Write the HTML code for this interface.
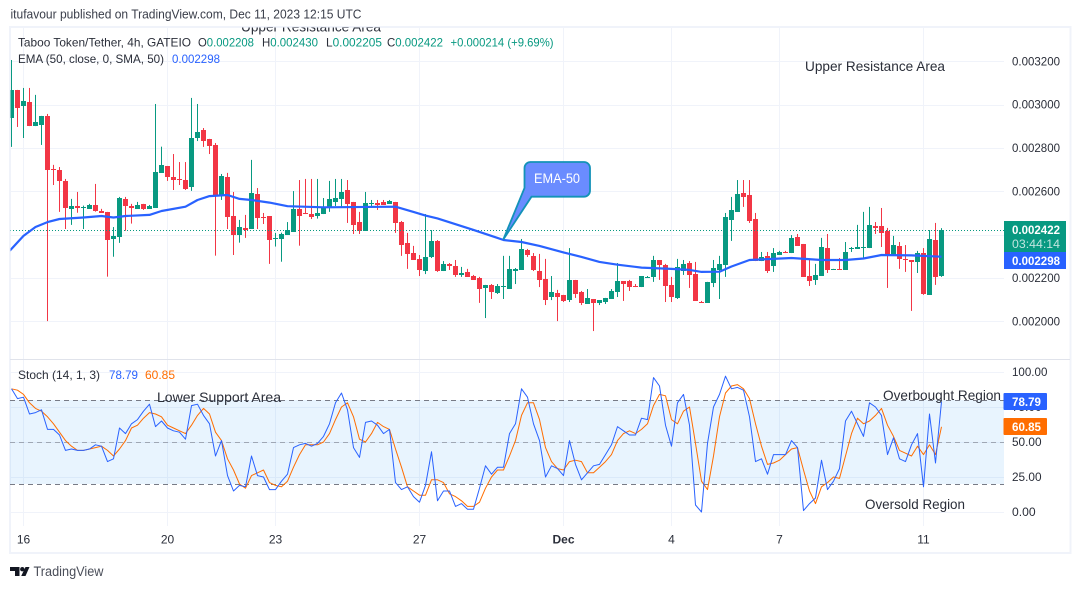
<!DOCTYPE html>
<html lang="en">
<head>
<meta charset="utf-8">
<title>Taboo Token/Tether chart</title>
<style>
html,body{margin:0;padding:0;background:#fff;width:1080px;height:589px;overflow:hidden}
svg{display:block;font-family:"Liberation Sans",sans-serif}
</style>
</head>
<body>
<svg id="chart" xmlns="http://www.w3.org/2000/svg" width="1080" height="589" viewBox="0 0 1080 589">
  <defs>
    <clipPath id="main-clip"><rect x="10.5" y="27.5" width="993.5" height="331.5"/></clipPath>
    <clipPath id="stoch-clip"><rect x="10.5" y="360" width="993.5" height="166"/></clipPath>
  </defs>
  <rect x="0" y="0" width="1080" height="589" fill="#ffffff"/>
  <text x="10.5" y="18.5" font-size="12.5" fill="#3a3e4a" textLength="351" lengthAdjust="spacingAndGlyphs">itufavour published on TradingView.com, Dec 11, 2023 12:15 UTC</text>
  <rect x="10" y="27" width="1060.5" height="526" fill="none" stroke="#f0f3fa" stroke-width="2"/>
  <g id="grid"></g>
  <g id="band"></g>
  <line x1="10" x2="1070" y1="359.5" y2="359.5" stroke="#e0e3eb" stroke-width="1"/>
  <g clip-path="url(#main-clip)">
    <text x="241" y="31.5" font-size="14" fill="#2a2e39" textLength="140" lengthAdjust="spacingAndGlyphs">Upper Resistance Area</text>
    <g id="candles"></g>
    <line id="last-line" x1="10" x2="1004" stroke="#089981" stroke-width="1" stroke-dasharray="1 2"/>
    <polyline id="ema-line" fill="none" stroke="#2962ff" stroke-width="2.2" stroke-linejoin="round"/>
    <path d="M530 162h54a6 6 0 0 1 6 6v22.700a6 6 0 0 1 -6 6h-52.500L503.300 239.500L524.500 188V168a6 6 0 0 1 6 -6z" fill="#6a8cff" stroke="#1392b8" stroke-width="1.800"/>
    <text x="534" y="183" font-size="14" fill="#ffffff" textLength="46" lengthAdjust="spacingAndGlyphs">EMA-50</text>
  </g>
  <g clip-path="url(#stoch-clip)">
    <polyline id="stoch-d" fill="none" stroke="#ff6d00" stroke-width="1" stroke-linejoin="round"/>
    <polyline id="stoch-k" fill="none" stroke="#2962ff" stroke-width="1" stroke-linejoin="round"/>
  </g>
  <text x="18" y="46.500" font-size="12" fill="#2a2e39" textLength="173" lengthAdjust="spacingAndGlyphs">Taboo Token/Tether, 4h, GATEIO</text>
  <text x="198" y="46.500" font-size="12" fill="#089981" textLength="56" lengthAdjust="spacingAndGlyphs"><tspan fill="#2a2e39">O</tspan>0.002208</text>
  <text x="262" y="46.500" font-size="12" fill="#089981" textLength="56" lengthAdjust="spacingAndGlyphs"><tspan fill="#2a2e39">H</tspan>0.002430</text>
  <text x="326" y="46.500" font-size="12" fill="#089981" textLength="56" lengthAdjust="spacingAndGlyphs"><tspan fill="#2a2e39">L</tspan>0.002205</text>
  <text x="387" y="46.500" font-size="12" fill="#089981" textLength="56" lengthAdjust="spacingAndGlyphs"><tspan fill="#2a2e39">C</tspan>0.002422</text>
  <text x="450.500" y="46.500" font-size="12" fill="#089981" textLength="103" lengthAdjust="spacingAndGlyphs">+0.000214 (+9.69%)</text>
  <text x="18" y="63" font-size="12" fill="#2a2e39" textLength="146" lengthAdjust="spacingAndGlyphs">EMA (50, close, 0, SMA, 50)</text>
  <text x="172" y="63" font-size="12" fill="#2962ff" textLength="48" lengthAdjust="spacingAndGlyphs">0.002298</text>
  <text x="805" y="71" font-size="14" fill="#2a2e39" textLength="140" lengthAdjust="spacingAndGlyphs">Upper Resistance Area</text>
  <text x="18" y="379" font-size="12" fill="#2a2e39" textLength="82" lengthAdjust="spacingAndGlyphs">Stoch (14, 1, 3)</text>
  <text x="109" y="379" font-size="12" fill="#2962ff" textLength="29" lengthAdjust="spacingAndGlyphs">78.79</text>
  <text x="145" y="379" font-size="12" fill="#ff6d00" textLength="30" lengthAdjust="spacingAndGlyphs">60.85</text>
  <text x="157" y="402" font-size="14" fill="#2a2e39" textLength="124" lengthAdjust="spacingAndGlyphs">Lower Support Area</text>
  <text x="883" y="400" font-size="14" fill="#2a2e39" textLength="118" lengthAdjust="spacingAndGlyphs">Overbought Region</text>
  <text x="865" y="509" font-size="14" fill="#2a2e39" textLength="100" lengthAdjust="spacingAndGlyphs">Oversold Region</text>
  <g id="axis-labels"></g>
  <rect x="1004" y="221" width="62" height="31" fill="#089981"/>
  <text x="1012" y="234" font-size="12" font-weight="bold" fill="#ffffff" textLength="48" lengthAdjust="spacingAndGlyphs">0.002422</text>
  <text x="1012" y="248" font-size="12" fill="#ffffff" fill-opacity="0.75" textLength="48" lengthAdjust="spacingAndGlyphs">03:44:14</text>
  <rect x="1004" y="252" width="62" height="17" fill="#2962ff"/>
  <text x="1012" y="265" font-size="12" font-weight="bold" fill="#ffffff" textLength="48" lengthAdjust="spacingAndGlyphs">0.002298</text>
  <rect x="1003.500" y="393" width="43.500" height="17" rx="1" fill="#2962ff"/>
  <text x="1012" y="406" font-size="12" font-weight="bold" fill="#ffffff" textLength="29" lengthAdjust="spacingAndGlyphs">78.79</text>
  <rect x="1003.500" y="418" width="43.500" height="17" rx="1" fill="#ff6d00"/>
  <text x="1012" y="431" font-size="12" font-weight="bold" fill="#ffffff" textLength="29" lengthAdjust="spacingAndGlyphs">60.85</text>
  <g>
    <path d="M10 567h9.500v9h-4.500v-5h-5z" fill="#131722"/>
    <circle cx="22.300" cy="569.200" r="2.200" fill="#131722"/>
    <path d="M25.500 567h4l-4 9h-4.300z" fill="#131722"/>
    <text x="33.500" y="576" font-size="13.500" fill="#4a4e59" textLength="70" lengthAdjust="spacingAndGlyphs">TradingView</text>
  </g>
</svg>
<script>
const opens = [2939,3068,2994,3012,2901,2906,2948,2701,2698,2648,
2519,2532,2524,2519,2537,2509,2505,2381,2391,2565,
2532,2519,2542,2519,2524,2686,2717,2666,2655,2652,
2620,2846,2883,2842,2814,2578,2666,2486,2398,2431,
2426,2588,2482,2486,2381,2381,2400,2414,2519,2500,
2495,2488,2495,2526,2551,2565,2606,2551,2458,2417,
2542,2546,2551,2542,2551,2458,2362,2315,2288,2232,
2297,2371,2232,2265,2255,2214,2228,2209,2200,2154,
2168,2131,2158,2149,2232,2237,2329,2302,2232,2195,
2112,2131,2122,2098,2191,2135,2080,2103,2085,2089,
2103,2135,2186,2186,2163,2158,2200,2205,2283,2260,
2168,2108,2232,2269,2218,2089,2085,2177,2237,2260,
2468,2505,2592,2583,2472,2278,2302,2255,2306,2320,
2315,2389,2357,2209,2191,2209,2338,2237,2242,2237,
2334,2334,2338,2338,2440,2440,2417,2302,2348,2288,
2283,2274,2315,2122,2375,2208];
const highs = [3206,3068,3077,3077,3045,2948,2957,2722,2712,2657,
2565,2597,2534,2542,2634,2519,2505,2435,2574,2574,
2542,2551,2542,2537,3003,2806,2717,2772,2735,2735,
3031,3003,2892,2842,2823,2680,2685,2597,2468,2491,
2745,2615,2500,2486,2408,2409,2458,2601,2652,2657,
2657,2657,2569,2648,2657,2657,2652,2551,2505,2597,
2560,2560,2560,2560,2551,2463,2408,2348,2306,2495,
2421,2375,2278,2269,2283,2251,2242,2214,2205,2168,
2172,2172,2302,2302,2246,2380,2334,2315,2311,2288,
2209,2145,2122,2338,2191,2140,2149,2103,2098,2108,
2149,2269,2186,2191,2172,2209,2209,2302,2283,2265,
2205,2288,2283,2278,2274,2094,2182,2283,2302,2500,
2574,2652,2652,2652,2500,2320,2320,2338,2325,2325,
2398,2403,2357,2283,2265,2385,2403,2242,2292,2366,
2343,2445,2505,2528,2458,2523,2431,2394,2366,2352,
2283,2325,2338,2421,2454,2430];
const lows = [2805,2897,2846,2901,2901,2814,2001,2629,2505,2426,
2445,2501,2426,2519,2506,2501,2206,2298,2362,2418,
2451,2519,2514,2519,2524,2685,2648,2606,2629,2606,
2602,2832,2805,2772,2303,2560,2426,2306,2363,2385,
2426,2426,2449,2265,2345,2275,2400,2414,2349,2495,
2472,2474,2495,2505,2532,2523,2454,2403,2403,2417,
2528,2514,2537,2542,2408,2302,2242,2283,2209,2218,
2292,2228,2232,2237,2205,2205,2205,2191,2085,2015,
2103,2126,2103,2149,2172,2237,2297,2232,2158,2075,
2098,2001,2089,2089,2108,2075,2080,1955,2075,2080,
2103,2112,2094,2140,2158,2158,2200,2182,2191,2089,
2089,2103,2214,2154,2094,2085,2085,2158,2103,2205,
2371,2505,2528,2454,2278,2278,2223,2228,2306,2315,
2315,2348,2205,2163,2168,2209,2223,2237,2237,2237,
2320,2334,2288,2338,2403,2343,2154,2302,2242,2228,
2048,2223,2122,2122,2168,2205];
const closes = [3068,2985,3017,2901,2920,2948,2698,2696,2649,2524,
2532,2524,2528,2537,2511,2501,2377,2394,2569,2534,
2524,2537,2519,2532,2689,2722,2666,2652,2652,2611,
2846,2874,2832,2809,2583,2671,2483,2398,2435,2423,
2592,2477,2477,2377,2385,2403,2423,2519,2488,2495,
2483,2500,2526,2565,2569,2597,2542,2445,2417,2546,
2546,2537,2537,2555,2454,2352,2311,2283,2237,2297,
2371,2232,2265,2255,2214,2223,2205,2191,2149,2168,
2135,2163,2163,2242,2242,2334,2306,2237,2191,2098,
2135,2112,2094,2191,2126,2085,2108,2085,2098,2108,
2140,2186,2172,2158,2158,2209,2205,2283,2260,2163,
2112,2251,2265,2214,2094,2085,2182,2246,2265,2482,
2514,2588,2574,2463,2278,2297,2232,2315,2320,2315,
2385,2348,2205,2186,2214,2343,2237,2242,2237,2320,
2338,2343,2343,2445,2431,2408,2302,2352,2288,2283,
2274,2315,2126,2380,2205,2422];
const emaBars = [-1,0,2,4,6,8,12,15,17,19,23,25,29,31,33,36,38,40,43,46,52,64,65,67,69,71,77,81,82,85,88,92,95,98,101,105,110,113,115,118,120,123,130,135,139,142,145,150,155];
const emaValues = [2306,2334,2394,2435,2458,2472,2479,2486,2479,2486,2491,2509,2529,2560,2578,2583,2565,2560,2548,2531,2526,2529,2521,2505,2488,2475,2422,2385,2375,2366,2348,2318,2297,2274,2261,2248,2242,2237,2228,2229,2253,2283,2292,2283,2283,2290,2306,2304,2298];
const stochK = [88,81,82,70,71,73,59,59,55,44,45,44,44,45,48,47,36,38,60,56,63,66,72,77,61,65,60,58,57,52,76,77,69,63,40,51,26,15,19,18,40,26,25,16,16,22,27,46,48,49,47,49,54,63,78,85,73,46,39,64,65,62,56,59,21,16,18,11,7,19,43,8,15,15,4,6,2,2,17,33,27,32,32,56,63,88,82,63,51,25,33,31,26,51,34,23,28,33,34,41,48,61,58,55,55,67,66,96,90,62,47,78,84,62,5,0,49,75,84,97,88,89,87,68,36,38,27,41,41,41,51,46,1,6,10,37,16,22,31,65,72,63,54,78,75,69,41,53,38,36,48,56,18,70,35,78.79];
const stochD = [88,87,84,78,74,72,68,63,57,51,47,44,44,45,46,47,44,40,45,51,60,62,67,71,70,68,62,60,58,56,62,69,74,70,57,51,38,30,20,17,26,28,30,21,19,18,22,32,41,48,48,48,50,56,66,75,78,68,52,50,56,64,61,59,45,32,18,15,12,12,23,23,21,13,11,8,4,4,7,17,25,30,30,40,51,69,78,78,66,46,36,31,30,36,37,36,28,28,32,36,41,51,56,58,56,59,63,76,84,83,66,63,72,75,49,22,16,40,68,85,90,91,88,81,63,47,34,35,37,41,45,46,30,15,6,18,21,25,24,40,56,67,63,65,69,74,62,54,44,42,40,47,41,48,41,60.85];
const priceTicks = [3200,3000,2800,2600,2400,2200,2000];
const stochTicks = [100,75,50,25,0];
const timeTickBars = [2,26,44,68,92,110,128,152];
const timeTickLabels = ['16','20','23','27','Dec','4','7','11'];
const bandLimits = [80,20];
const midLevel = [50];

const NS = 'http://www.w3.org/2000/svg';
const xOf = i => 11.5 + 6 * i;
const yPrice = p => 321.3 - (p - 2000) * 0.21667;
const yStoch = v => 512 - 1.4 * v;
const GREEN = '#089981', RED = '#f23645';
const mk = (tag, parent) => { const e = document.createElementNS(NS, tag); parent.appendChild(e); return e; };
const setA = (e, o) => { for (const k in o) e.setAttribute(k, o[k]); return e; };

const grid = document.getElementById('grid');
priceTicks.forEach(p => {
  const l = mk('line', grid);
  
  
  const y = Math.round(yPrice(p)) + 0.5;
  setA(l, {x1: 10, x2: 1004, y1: y, y2: y, stroke: '#f0f3fa', 'stroke-width': 1});
});
stochTicks.forEach(v => {
  const l = mk('line', grid);
  
  
  const y = Math.round(yStoch(v)) + 0.5;
  setA(l, {x1: 10, x2: 1004, y1: y, y2: y, stroke: '#f0f3fa', 'stroke-width': 1});
});
timeTickBars.forEach(b => {
  const l = mk('line', grid);
  
  
  setA(l, {x1: xOf(b), x2: xOf(b), y1: 28, y2: 526, stroke: '#f0f3fa', 'stroke-width': 1});
});

const band = document.getElementById('band');
const fill = mk('rect', band);


setA(fill, {x: 10, width: 994, y: yStoch(bandLimits[0]), height: yStoch(bandLimits[1]) - yStoch(bandLimits[0]), fill: '#2196f3', 'fill-opacity': 0.1});
bandLimits.forEach(v => {
  const l = mk('line', band);
  
  
  const y = Math.round(yStoch(v)) + 0.5;
  setA(l, {x1: 10, x2: 1004, y1: y, y2: y, stroke: '#787b86', 'stroke-width': 1, 'stroke-dasharray': '5 4'});
});
midLevel.forEach(v => {
  const l = mk('line', band);
  
  
  const y = Math.round(yStoch(v)) + 0.5;
  setA(l, {x1: 10, x2: 1004, y1: y, y2: y, stroke: '#787b86', 'stroke-opacity': 0.6, 'stroke-width': 1, 'stroke-dasharray': '5 4'});
});

const candles = document.getElementById('candles');
opens.forEach((o, i) => {
  const c = closes[i], col = c >= o ? GREEN : RED, x = xOf(i);
  const wick = mk('rect', candles);
  
  
  const yh = yPrice(highs[i]), yl = yPrice(lows[i]);
  setA(wick, {x: x - 0.5, width: 1, y: yh, height: Math.max(1, yl - yh), fill: col});
  const body = mk('rect', candles);
  
  
  const t = Math.round(yPrice(Math.max(o, c))), b = Math.round(yPrice(Math.min(o, c)));
  setA(body, {x: x - 2.5, width: 5, y: t, height: Math.max(1, b - t), fill: col});
});

const last = document.getElementById('last-line');
const ly = Math.round(yPrice(closes[closes.length - 1])) + 0.5;
setA(last, {y1: ly, y2: ly});

document.getElementById('ema-line').setAttribute('points', emaBars.map((b, i) => xOf(b) + ',' + yPrice(emaValues[i]).toFixed(1)).join(' '));
document.getElementById('stoch-k').setAttribute('points', stochK.map((v, i) => xOf(i) + ',' + yStoch(v).toFixed(1)).join(' '));
document.getElementById('stoch-d').setAttribute('points', stochD.map((v, i) => xOf(i) + ',' + yStoch(v).toFixed(1)).join(' '));

const axis = document.getElementById('axis-labels');
priceTicks.forEach(p => {
  const t = mk('text', axis);
  
  
  setA(t, {x: 1012, y: yPrice(p) + 4, 'font-size': 12, fill: '#2a2e39', textLength: 48, lengthAdjust: 'spacingAndGlyphs'});
  t.textContent = (p / 1e6).toFixed(6);
});
stochTicks.forEach(v => {
  const t = mk('text', axis);
  
  
  const s = v.toFixed(2);
  setA(t, {x: 1012, y: yStoch(v) + 4, 'font-size': 12, fill: '#2a2e39', textLength: s.length * 5.9, lengthAdjust: 'spacingAndGlyphs'});
  t.textContent = s;
});
timeTickLabels.forEach((s, i) => {
  const t = mk('text', axis);
  
  
  setA(t, {x: xOf(timeTickBars[i]), y: 543.5, 'font-size': 12, fill: '#2a2e39', 'text-anchor': 'middle'});
  if (s === 'Dec') t.setAttribute('font-weight', 'bold');
  t.textContent = s;
});
</script>
</body>
</html>
